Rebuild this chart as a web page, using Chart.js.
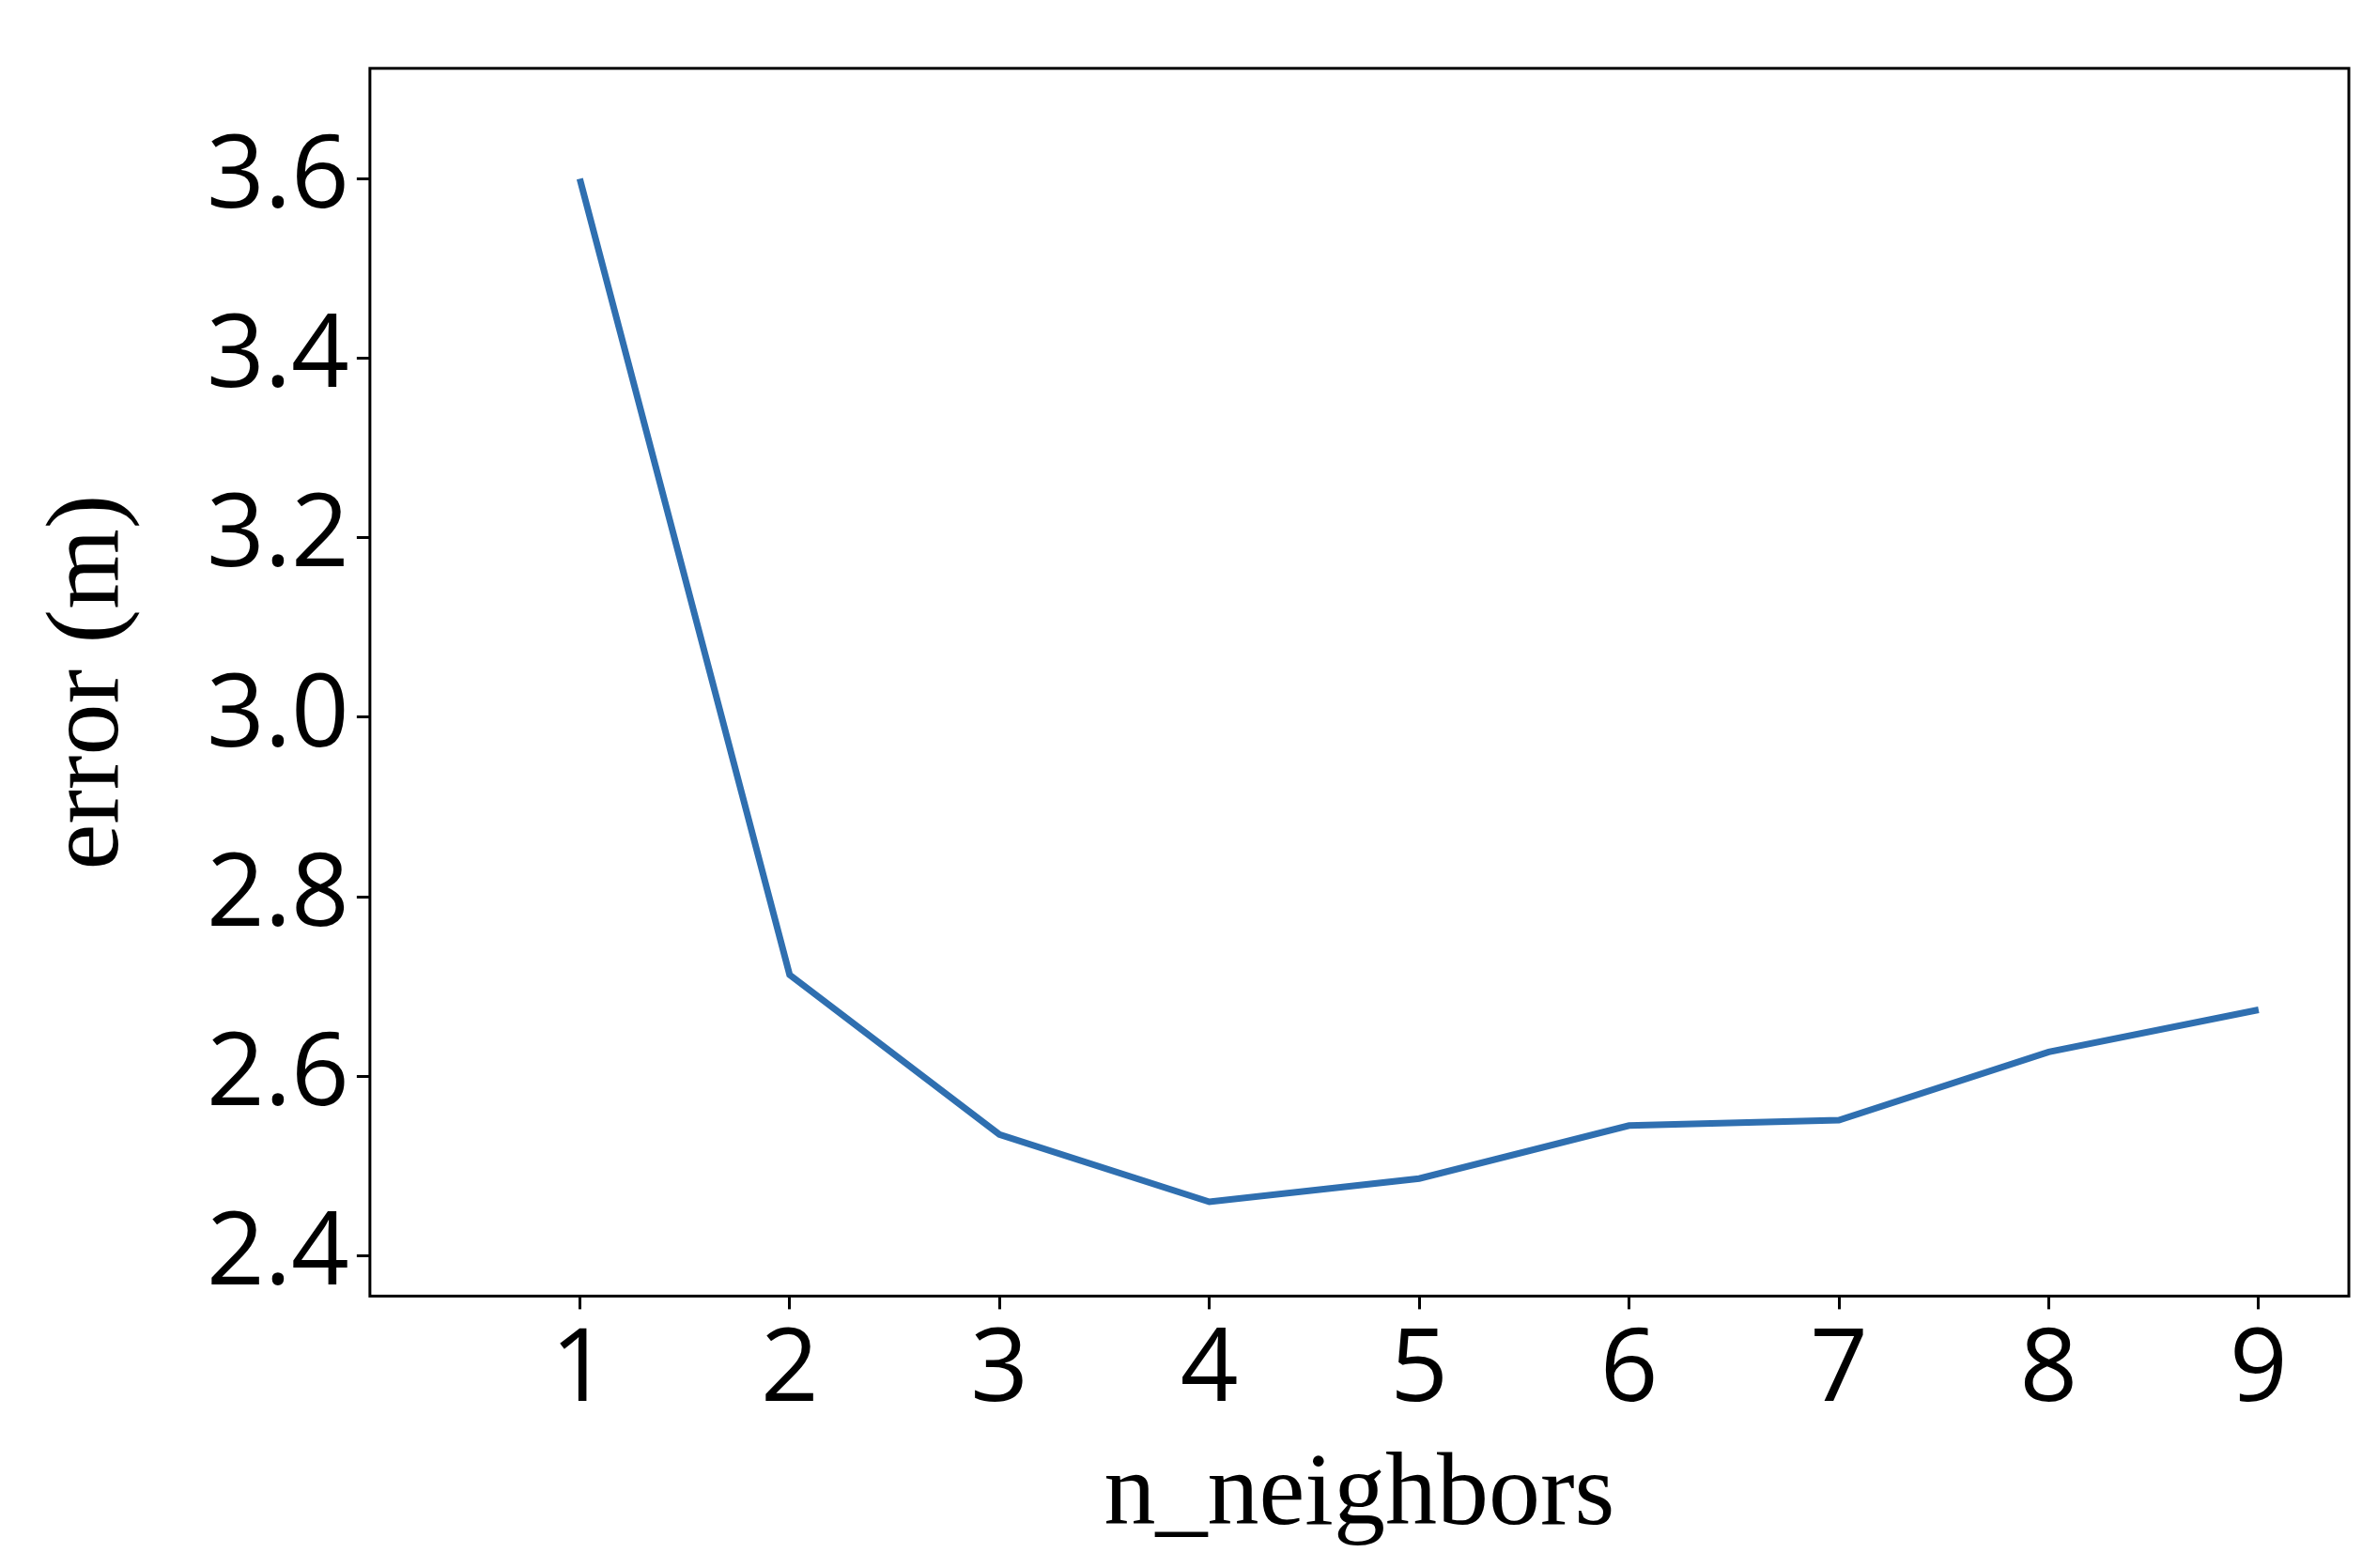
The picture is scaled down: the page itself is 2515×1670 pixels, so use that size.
<!DOCTYPE html>
<html><head><meta charset="utf-8">
<script src="https://cdn.jsdelivr.net/npm/chart.js@4/dist/chart.umd.min.js"></script>
<style>html,body{margin:0;padding:0;background:#fff}</style>
</head><body>
<canvas id="c" width="2515" height="1670"></canvas>
<script>
const neighbors = [1,2,3,4,5,6,7,8,9];
const errors = [3.60,2.713,2.535,2.46,2.486,2.545,2.551,2.627,2.674];
const yTicks = [2.4,2.6,2.8,3.0,3.2,3.4,3.6];

const border = {id:'border',afterDraw(ch){const a=ch.chartArea,c=ch.ctx;c.save();c.strokeStyle='#000';c.lineWidth=3;c.strokeRect(a.left,a.top,a.right-a.left,a.bottom-a.top);c.restore();}};
new Chart(document.getElementById('c'),{
 type:'line',
 data:{datasets:[{data:neighbors.map((x,i)=>({x,y:errors[i]})),borderColor:'#2f6fb0',borderWidth:7,pointRadius:0,tension:0}]},
 options:{responsive:false,animation:false,
  layout:{padding:{top:0,right:14,left:30,bottom:10}},
  plugins:{legend:{display:false},tooltip:{enabled:false}},
  scales:{
   x:{type:'linear',min:0,max:9.43,
    afterBuildTicks(s){s.ticks=neighbors.map(v=>({value:v}));},
    grid:{display:true,drawOnChartArea:false,drawTicks:true,tickLength:14,tickColor:'#000',tickWidth:3},
    border:{display:false},
    ticks:{color:'#000',font:{family:'Open Sans',size:108},padding:2,maxRotation:0,autoSkip:false},
    title:{display:true,text:'n_neighbors',color:'#000',font:{family:'Liberation Serif',size:110},padding:{top:0,bottom:0}}},
   y:{min:2.355,max:3.723,
    afterBuildTicks(s){s.ticks=yTicks.map(v=>({value:v}));},
    grid:{display:true,drawOnChartArea:false,drawTicks:true,tickLength:14,tickColor:'#000',tickWidth:3},
    border:{display:false},
    ticks:{color:'#000',font:{family:'Open Sans',size:108},padding:8,callback:v=>v.toFixed(1),autoSkip:false},
    title:{display:true,text:'error (m)',color:'#000',font:{family:'Liberation Serif',size:110},padding:{top:0,bottom:50}}}
  }},
 plugins:[border]
});
</script></body></html>
